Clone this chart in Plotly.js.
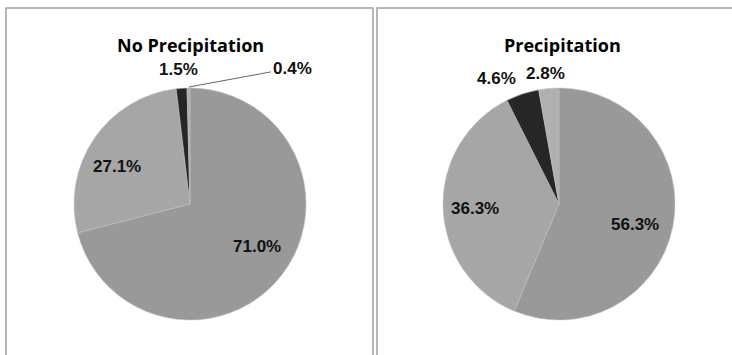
<!DOCTYPE html>
<html>
<head>
<meta charset="utf-8">
<script src="https://cdn.plot.ly/plotly-3.0.1.min.js"></script>
<style>
html,body{margin:0;padding:0;background:#fff;}
#chart{width:732px;height:355px;}
</style>
</head>
<body>
<div id="chart"></div>
<script>
// Data
const categories = ["Category A", "Category B", "Category C", "Category D"];
const noPrecipValues = [71.0, 27.1, 1.5, 0.4];
const precipValues = [56.3, 36.3, 4.6, 2.8];
const panelTitles = ["No Precipitation", "Precipitation"];

const sliceColors = ["#999999", "#a6a6a6", "#262626", "#b0b0b0"];
const W = 732, H = 355;
const px = v => v / W;
const py = v => 1 - v / H;

function pieTrace(values, cx, cy, r) {
  return {
    type: "pie",
    labels: categories,
    values: values,
    sort: false,
    direction: "clockwise",
    rotation: 0,
    domain: {x: [px(cx - r), px(cx + r)], y: [py(cy + r), py(cy - r)]},
    marker: {colors: sliceColors, line: {color: "#bdbdbd", width: 0.6}},
    textinfo: "none",
    hoverinfo: "none",
    showlegend: false
  };
}

const data = [
  pieTrace(noPrecipValues, 190, 204, 116),
  pieTrace(precipValues, 559, 204, 116)
];

const lblFont = {family: "Liberation Sans, Arial, sans-serif", size: 17, color: "#111", weight: "bold"};
const fmt = v => v.toFixed(1) + "%";
function lbl(v, x, y) {
  return {text: fmt(v), xref: "paper", yref: "paper", x: px(x), y: py(y),
          xanchor: "center", yanchor: "middle", showarrow: false, font: lblFont};
}
// label positions (pixels) for each slice
const leftLabelPos = [[257, 246], [117, 166], [178, 70], [292, 68]];
const rightLabelPos = [[635, 224], [475, 208], [496, 78], [545, 74]];

const annotations = [];
noPrecipValues.forEach((v, i) => {
  if (i === 3) {
    annotations.push({text: fmt(v), xref: "paper", yref: "paper", x: px(189), y: py(87),
      ax: leftLabelPos[i][0] - 189, ay: leftLabelPos[i][1] - 87, axref: "pixel", ayref: "pixel",
      showarrow: true, arrowhead: 0, arrowwidth: 1, arrowcolor: "#666", standoff: 0,
      xanchor: "center", yanchor: "middle", font: lblFont});
  } else {
    annotations.push(lbl(v, leftLabelPos[i][0], leftLabelPos[i][1]));
  }
});
precipValues.forEach((v, i) => annotations.push(lbl(v, rightLabelPos[i][0], rightLabelPos[i][1])));

const titleFont = {family: "Open Sans, Liberation Sans, sans-serif", size: 18, color: "#000", weight: "bold"};
annotations.push({text: panelTitles[0], xref: "paper", yref: "paper", x: px(190), y: py(45),
  xanchor: "center", yanchor: "middle", showarrow: false, font: titleFont});
annotations.push({text: panelTitles[1], xref: "paper", yref: "paper", x: px(562), y: py(45),
  xanchor: "center", yanchor: "middle", showarrow: false, font: titleFont});

const layout = {
  width: W, height: H,
  margin: {l: 0, r: 0, t: 0, b: 0},
  paper_bgcolor: "#ffffff",
  showlegend: false,
  shapes: [
    {type: "rect", xref: "paper", yref: "paper", x0: px(6), x1: px(373), y0: -0.1, y1: py(8),
     line: {color: "#a0a0a0", width: 1.5}, fillcolor: "rgba(0,0,0,0)"},
    {type: "rect", xref: "paper", yref: "paper", x0: px(377), x1: 1.1, y0: -0.1, y1: py(8),
     line: {color: "#a0a0a0", width: 1.5}, fillcolor: "rgba(0,0,0,0)"}
  ],
  annotations: annotations
};

Plotly.newPlot("chart", data, layout, {displayModeBar: false, staticPlot: true});
</script>
</body>
</html>
